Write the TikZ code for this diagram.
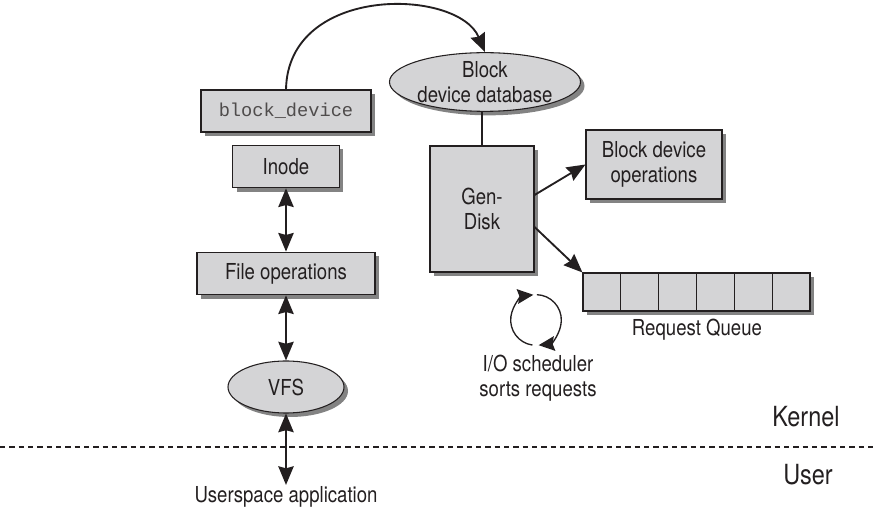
\documentclass[tikz,border=0pt]{standalone}
\usepackage{fontspec}
\setmainfont{TeX Gyre Heros}[FakeStretch=0.845]
\newfontfamily\codefont{Liberation Mono}
\usepackage{xcolor}
\usetikzlibrary{arrows.meta,positioning,shapes.geometric,shadows}
\definecolor{boxgray}{RGB}{212,212,214}
\definecolor{ink}{RGB}{35,31,32}

\begin{document}
\begin{tikzpicture}[x=0.75pt,y=0.75pt,
  >={Stealth[length=14pt,width=11.5pt,inset=1.5pt]},
  box/.style={draw=ink, fill=boxgray, line width=0.8pt, inner sep=0pt,
    drop shadow={shadow xshift=3pt, shadow yshift=-3pt, fill=black!65, opacity=0.75},
    text=ink, align=center, font=\fontsize{16.5}{18.5}\selectfont},
  oval/.style={box, ellipse},
  plain/.style={text=ink, align=center, inner sep=1pt, font=\fontsize{16.5}{18.5}\selectfont},
  link/.style={draw=ink, line width=1.5pt, <->},
  feed/.style={draw=ink, line width=1.4pt, ->}]
\useasboundingbox (0,0) rectangle (876,-509);
% left column: VFS side
\node[box, minimum width=127.5pt, minimum height=31.5pt, text=ink!80,
  font=\codefont\fontsize{14}{16}\selectfont] (bdev) at (286,-111) {block\_device};
\node[box, minimum width=80pt, minimum height=32pt] (inode) at (286,-166.5) {Inode};
\node[box, minimum width=133.5pt, minimum height=32pt] (fops) at (286,-273.5) {File operations};
\node[oval, minimum width=87pt, minimum height=39pt] (vfs) at (286,-387) {VFS};
\node[plain] (app) at (286,-497) {Userspace application};
\draw[link] (inode) -- (fops);
\draw[link] (fops) -- (vfs);
\draw[link] (vfs) -- (app);
% right side: block layer
\node[oval, minimum width=129pt, minimum height=44pt] (db) at (485,-82) {Block\\device database};
\node[box, minimum width=78pt, minimum height=94.5pt] (gendisk) at (482,-209) {Gen-\\Disk};
\node[box, minimum width=102pt, minimum height=51.75pt] (bdops) at (654,-164.5) {Block device\\operations};
\draw[feed] (bdev.north) .. controls (288,16) and (458,12) .. (db.north);
\draw[draw=ink, line width=0.8pt] (db.south -| gendisk.north) -- (gendisk.north);
\foreach \i in {1,...,6} {
  \node[box, minimum width=28.4pt, minimum height=28.5pt] (q\i) at ({601.9+37.83*(\i-1)},-292) {};
}
\node[plain] (rqlabel) at (697,-330) {Request Queue};
\draw[feed] ([yshift=10.5pt]gendisk.east) -- (bdops.west);
\draw[feed] ([yshift=-13.5pt]gendisk.east) -- (q1.north west);
% scheduler loop
\coordinate (sched) at (536,-320);
\draw[draw=ink, line width=1pt, -{Stealth[length=12pt,width=11pt,inset=1.5pt]}]
  ([shift={(262:19pt)}]sched) arc[start angle=262, end angle=96, radius=19pt];
\draw[draw=ink, line width=1pt, -{Stealth[length=12pt,width=11pt,inset=1.5pt]}]
  ([shift={(88:19pt)}]sched) arc[start angle=88, end angle=-84, radius=19pt];
\node[plain] (iolabel) at (538,-378) {I/O scheduler\\sorts requests};
% kernel / user boundary
\coordinate (lft) at (0,-447);
\coordinate (rgt) at (876,-447);
\draw[draw=ink, line width=1.1pt, dash pattern=on 4pt off 3pt] (lft) -- (rgt);
\node[plain, font=\fontsize{20.8}{23}\selectfont] (kernel) at (806,-417) {Kernel};
\node[plain, font=\fontsize{20.8}{23}\selectfont] (user) at (808,-475) {User};
\end{tikzpicture}
\end{document}
